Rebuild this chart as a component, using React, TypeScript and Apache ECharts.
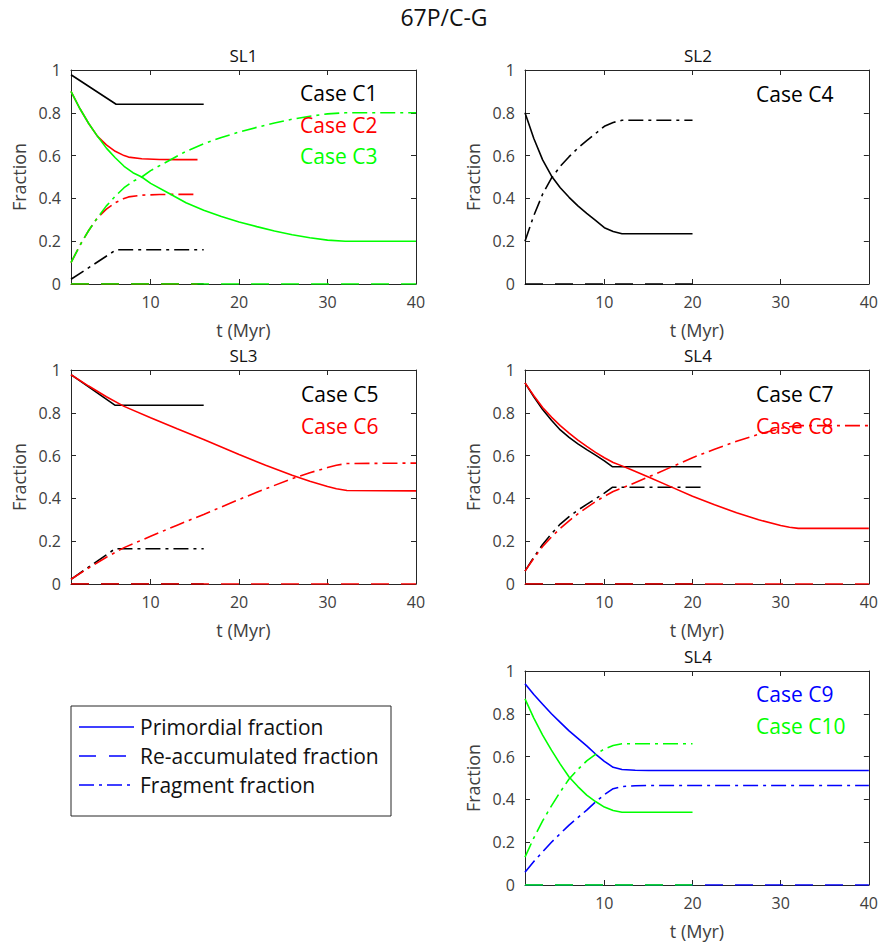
import React, { useEffect, useRef } from "react";
import * as echarts from "echarts";

const FONT = '"Open Sans", "Noto Sans", sans-serif';

// ---------------- data (t in Myr, fractions) ----------------
const X_TICKS = [10, 20, 30, 40];

// SL1 — Case C1 (black)
const tC1 = [1, 6.1, 16];
const primC1 = [0.978, 0.84, 0.84];
const reacC1 = [0, 0, 0];
const fragC1 = [0.022, 0.16, 0.16];
// SL1 — Case C2 (red)
const tC2 = [1, 2, 3, 4, 5, 6, 7, 7.5, 9, 11, 13, 15.3];
const primC2 = [0.9, 0.82, 0.75, 0.69, 0.65, 0.62, 0.6, 0.593, 0.585, 0.582, 0.581, 0.581];
const reacC2 = [0, 0, 0, 0, 0, 0, 0, 0, 0, 0, 0, 0];
const fragC2 = [0.1, 0.18, 0.25, 0.31, 0.35, 0.38, 0.4, 0.407, 0.415, 0.418, 0.419, 0.419];
// SL1 — Case C3 (green)
const tC3 = [1, 2, 3, 4, 5, 6, 7, 8, 9, 10, 12, 14, 16, 18, 20, 22, 24, 26, 28, 30, 32, 40];
const primC3 = [0.9, 0.82, 0.75, 0.69, 0.635, 0.59, 0.55, 0.52, 0.5, 0.47, 0.425, 0.38, 0.345, 0.315, 0.29, 0.268, 0.248, 0.23, 0.216, 0.205, 0.2, 0.2];
const reacC3 = [0, 0, 0, 0, 0, 0, 0, 0, 0, 0, 0, 0, 0, 0, 0, 0, 0, 0, 0, 0, 0, 0];
const fragC3 = [0.1, 0.18, 0.25, 0.31, 0.365, 0.41, 0.45, 0.48, 0.5, 0.53, 0.575, 0.62, 0.655, 0.685, 0.71, 0.732, 0.752, 0.77, 0.784, 0.795, 0.8, 0.8];

// SL2 — Case C4 (black)
const tC4 = [1, 2, 3, 4, 5, 6, 7, 8, 9, 10, 11, 12, 20];
const primC4 = [0.8, 0.68, 0.58, 0.505, 0.45, 0.405, 0.365, 0.33, 0.297, 0.263, 0.245, 0.235, 0.235];
const reacC4 = [0, 0, 0, 0, 0, 0, 0, 0, 0, 0, 0, 0, 0];
const fragC4 = [0.2, 0.32, 0.42, 0.495, 0.55, 0.595, 0.635, 0.67, 0.703, 0.737, 0.755, 0.765, 0.765];

// SL3 — Case C5 (black)
const tC5 = [1, 6, 16];
const primC5 = [0.978, 0.835, 0.835];
const reacC5 = [0, 0, 0];
const fragC5 = [0.022, 0.165, 0.165];
// SL3 — Case C6 (red)
const tC6 = [1, 3, 5, 7, 10, 13, 16, 20, 23, 26, 28, 30, 31, 32.2, 40];
const primC6 = [0.978, 0.925, 0.875, 0.83, 0.777, 0.725, 0.675, 0.605, 0.555, 0.508, 0.48, 0.456, 0.445, 0.437, 0.435];
const reacC6 = [0, 0, 0, 0, 0, 0, 0, 0, 0, 0, 0, 0, 0, 0, 0];
const fragC6 = [0.022, 0.075, 0.125, 0.17, 0.223, 0.275, 0.325, 0.395, 0.445, 0.492, 0.52, 0.544, 0.555, 0.563, 0.565];

// SL4 — Case C7 (black)
const tC7 = [1, 2, 3, 4, 5, 6, 7, 8, 9, 10, 10.9, 21];
const primC7 = [0.94, 0.875, 0.815, 0.765, 0.72, 0.685, 0.655, 0.628, 0.602, 0.575, 0.548, 0.548];
const reacC7 = [0, 0, 0, 0, 0, 0, 0, 0, 0, 0, 0, 0];
const fragC7 = [0.06, 0.125, 0.185, 0.235, 0.28, 0.315, 0.345, 0.372, 0.398, 0.425, 0.452, 0.452];
// SL4 — Case C8 (red)
const tC8 = [1, 2, 3, 4, 5, 6, 7, 8, 9, 10, 11, 12, 13, 15, 17.5, 20, 22.5, 25, 27.5, 30, 31, 32, 40];
const primC8 = [0.94, 0.88, 0.825, 0.78, 0.74, 0.705, 0.672, 0.643, 0.615, 0.59, 0.568, 0.552, 0.535, 0.5, 0.455, 0.41, 0.37, 0.333, 0.3, 0.273, 0.265, 0.26, 0.26];
const reacC8 = [0, 0, 0, 0, 0, 0, 0, 0, 0, 0, 0, 0, 0, 0, 0, 0, 0, 0, 0, 0, 0, 0, 0];
const fragC8 = [0.06, 0.12, 0.175, 0.22, 0.26, 0.295, 0.328, 0.357, 0.385, 0.41, 0.432, 0.448, 0.465, 0.5, 0.545, 0.59, 0.63, 0.667, 0.7, 0.727, 0.735, 0.74, 0.74];

// SL4 (bottom) — Case C9 (blue)
const tC9 = [1, 2, 3, 4, 5, 6, 7, 8, 9, 10, 11, 12, 13.5, 15, 40];
const primC9 = [0.94, 0.89, 0.845, 0.8, 0.76, 0.72, 0.685, 0.65, 0.612, 0.578, 0.55, 0.54, 0.536, 0.535, 0.535];
const reacC9 = [0, 0, 0, 0, 0, 0, 0, 0, 0, 0, 0, 0, 0, 0, 0];
const fragC9 = [0.06, 0.11, 0.155, 0.2, 0.24, 0.28, 0.315, 0.35, 0.388, 0.422, 0.45, 0.46, 0.464, 0.465, 0.465];
// SL4 (bottom) — Case C10 (green)
const tC10 = [1, 2, 3, 4, 5, 6, 7, 8, 9, 10, 11, 12, 20];
const primC10 = [0.87, 0.78, 0.7, 0.63, 0.565, 0.505, 0.46, 0.42, 0.39, 0.364, 0.348, 0.34, 0.34];
const reacC10 = [0, 0, 0, 0, 0, 0, 0, 0, 0, 0, 0, 0, 0];
const fragC10 = [0.13, 0.22, 0.3, 0.37, 0.435, 0.495, 0.54, 0.58, 0.61, 0.636, 0.652, 0.66, 0.66];

const PANEL_TITLES = ["SL1", "SL2", "SL3", "SL4", "SL4"];
const LEGEND_LABELS = ["Primordial fraction", "Re-accumulated fraction", "Fragment fraction"];

// ---------------- styling ----------------
const BLACK = "#000000";
const RED = "#ff0000";
const GREEN = "#00ff00";
const BLUE = "#0000ff";
const AXIS = "#262626";
const LABEL = "#404040";
const DASH = [18, 12];
const DASHDOT = [15, 5, 3, 5];
const LW = 1.6;

const GRIDS = [
  { left: 71, top: 70, width: 345, height: 214 },
  { left: 525, top: 70, width: 346, height: 214 },
  { left: 71, top: 370, width: 345, height: 214 },
  { left: 525, top: 370, width: 346, height: 214 },
  { left: 525, top: 671, width: 346, height: 214 },
];

type CaseDef = {
  label: string;
  color: string;
  t: number[];
  prim: number[];
  reac: number[];
  frag: number[];
};

const PANELS: { cases: CaseDef[]; labelX: number; labelY: number[] }[] = [
  {
    cases: [
      { label: "Case C1", color: BLACK, t: tC1, prim: primC1, reac: reacC1, frag: fragC1 },
      { label: "Case C2", color: RED, t: tC2, prim: primC2, reac: reacC2, frag: fragC2 },
      { label: "Case C3", color: GREEN, t: tC3, prim: primC3, reac: reacC3, frag: fragC3 },
    ],
    labelX: 300,
    labelY: [93, 124.5, 156],
  },
  {
    cases: [{ label: "Case C4", color: BLACK, t: tC4, prim: primC4, reac: reacC4, frag: fragC4 }],
    labelX: 756,
    labelY: [93.5],
  },
  {
    cases: [
      { label: "Case C5", color: BLACK, t: tC5, prim: primC5, reac: reacC5, frag: fragC5 },
      { label: "Case C6", color: RED, t: tC6, prim: primC6, reac: reacC6, frag: fragC6 },
    ],
    labelX: 301,
    labelY: [393.5, 426],
  },
  {
    cases: [
      { label: "Case C7", color: BLACK, t: tC7, prim: primC7, reac: reacC7, frag: fragC7 },
      { label: "Case C8", color: RED, t: tC8, prim: primC8, reac: reacC8, frag: fragC8 },
    ],
    labelX: 756,
    labelY: [393.5, 426],
  },
  {
    cases: [
      { label: "Case C9", color: BLUE, t: tC9, prim: primC9, reac: reacC9, frag: fragC9 },
      { label: "Case C10", color: GREEN, t: tC10, prim: primC10, reac: reacC10, frag: fragC10 },
    ],
    labelX: 756,
    labelY: [694, 725.5],
  },
];

const zip = (t: number[], v: number[]) => t.map((x, i) => [x, v[i]]);

function buildOption() {
  const xAxis: any[] = [];
  const yAxis: any[] = [];
  const series: any[] = [];
  const graphic: any[] = [];

  const axisLine = { show: true, onZero: false, lineStyle: { color: AXIS, width: 1 } };
  const tick = { show: true, inside: true, length: 5, lineStyle: { color: AXIS, width: 1 } };

  GRIDS.forEach((g, i) => {
    xAxis.push({
      gridIndex: i,
      type: "value",
      min: 1,
      max: 40,
      position: "bottom",
      axisLine,
      axisTick: { ...tick, customValues: X_TICKS },
      axisLabel: { show: true, customValues: X_TICKS, color: LABEL, fontSize: 16, fontFamily: FONT, margin: 10 },
      splitLine: { show: false },
      name: "t (Myr)",
      nameLocation: "middle",
      nameGap: 37,
      nameTextStyle: { color: LABEL, fontSize: 18, fontFamily: FONT },
    });
    yAxis.push({
      gridIndex: i,
      type: "value",
      min: 0,
      max: 1,
      interval: 0.2,
      position: "left",
      axisLine,
      axisTick: tick,
      axisLabel: {
        color: LABEL,
        fontSize: 16,
        fontFamily: FONT,
        margin: 10,
        formatter: (v: number) => String(Math.round(v * 10) / 10),
      },
      splitLine: { show: false },
      name: "Fraction",
      nameLocation: "middle",
      nameGap: 43,
      nameTextStyle: { color: LABEL, fontSize: 18, fontFamily: FONT },
    });
  });
  // mirror axes (box with ticks on all sides)
  GRIDS.forEach((g, i) => {
    xAxis.push({
      gridIndex: i,
      type: "value",
      min: 1,
      max: 40,
      position: "top",
      axisLine,
      axisTick: { ...tick, customValues: X_TICKS },
      axisLabel: { show: false },
      splitLine: { show: false },
    });
    yAxis.push({
      gridIndex: i,
      type: "value",
      min: 0,
      max: 1,
      interval: 0.2,
      position: "right",
      axisLine,
      axisTick: tick,
      axisLabel: { show: false },
      splitLine: { show: false },
    });
  });

  const line = (i: number, data: number[][], color: string, type: any, name: string) => ({
    type: "line",
    name,
    xAxisIndex: i,
    yAxisIndex: i,
    data,
    showSymbol: false,
    symbol: "none",
    silent: true,
    lineStyle: { color, width: LW, type },
    z: 2,
  });

  PANELS.forEach((p, i) => {
    p.cases.forEach((c) => {
      series.push(line(i, zip(c.t, c.prim), c.color, "solid", c.label + " primordial"));
      series.push(line(i, zip(c.t, c.reac), c.color, DASH, c.label + " re-accumulated"));
      series.push(line(i, zip(c.t, c.frag), c.color, DASHDOT, c.label + " fragment"));
    });
    p.cases.forEach((c, k) => {
      graphic.push({
        type: "text",
        x: p.labelX,
        y: p.labelY[k],
        z: 10,
        style: {
          text: c.label,
          fill: c.color,
          font: `21px ${FONT}`,
          textAlign: "left",
          textVerticalAlign: "middle",
        },
      });
    });
    const g = GRIDS[i];
    graphic.push({
      type: "text",
      x: g.left + g.width / 2,
      y: g.top - 15,
      style: {
        text: PANEL_TITLES[i],
        fill: "#111",
        font: `17px ${FONT}`,
        textAlign: "center",
        textVerticalAlign: "middle",
      },
    });
  });

  // super title
  graphic.push({
    type: "text",
    x: 444,
    y: 17,
    style: {
      text: "67P/C-G",
      fill: "#111",
      font: `23px ${FONT}`,
      textAlign: "center",
      textVerticalAlign: "middle",
    },
  });

  // legend box
  const lx = 71;
  const ly = 706;
  const rows = [727, 756, 785];
  const styles: any[] = [null, [17, 13], [15, 5, 3, 5]];
  graphic.push({
    type: "rect",
    shape: { x: lx, y: ly, width: 320, height: 110 },
    style: { fill: "#fff", stroke: AXIS, lineWidth: 1 },
    z: 5,
  });
  rows.forEach((ry, k) => {
    graphic.push({
      type: "line",
      shape: { x1: 79, y1: ry, x2: k === 1 ? 127 : 134, y2: ry },
      style: { stroke: BLUE, lineWidth: LW, lineDash: styles[k] || undefined },
      z: 6,
    });
    graphic.push({
      type: "text",
      x: 140,
      y: ry,
      z: 6,
      style: {
        text: LEGEND_LABELS[k],
        fill: "#111",
        font: `21px ${FONT}`,
        textAlign: "left",
        textVerticalAlign: "middle",
      },
    });
  });

  return {
    animation: false,
    backgroundColor: "#ffffff",
    grid: GRIDS.map((g) => ({ ...g, containLabel: false })),
    xAxis,
    yAxis,
    series,
    graphic,
  };
}

export default function App() {
  const ref = useRef<HTMLDivElement>(null);
  useEffect(() => {
    const chart = echarts.init(ref.current!, null, { renderer: "svg" });
    chart.setOption(buildOption() as any);
    return () => chart.dispose();
  }, []);
  return (
    <div
      ref={ref}
      style={{ position: "absolute", left: 0, top: 0, width: 881, height: 944, background: "#fff" }}
    />
  );
}
